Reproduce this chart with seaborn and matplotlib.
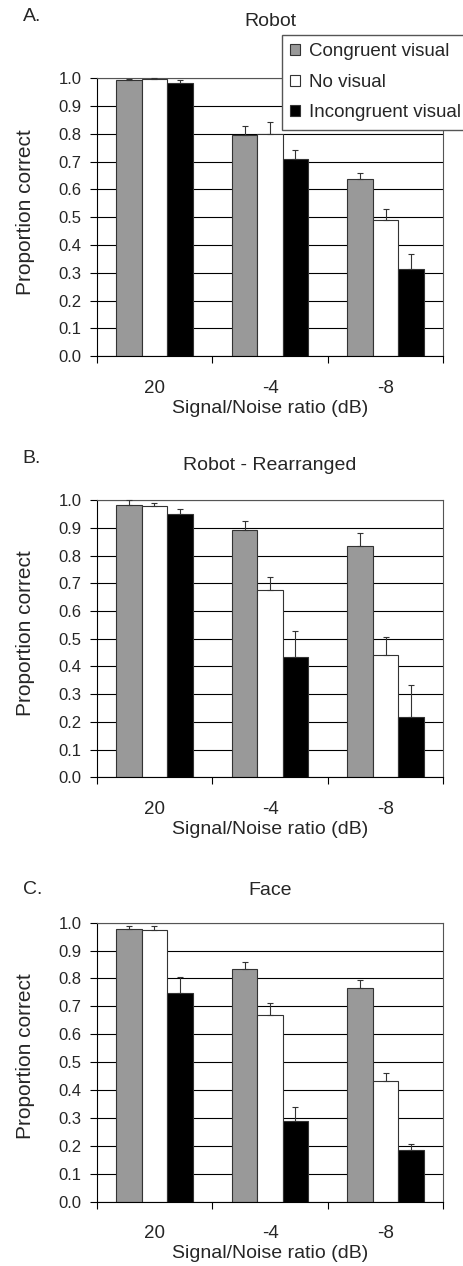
import numpy as np
import pandas as pd
import seaborn as sns
import matplotlib.pyplot as plt
from matplotlib.ticker import FixedLocator, FormatStrFormatter

snr_labels = ["20", "-4", "-8"]
conditions = ["Congruent visual", "No visual", "Incongruent visual"]
panel_letters = ["A.", "B.", "C."]
panel_titles = ["Robot", "Robot - Rearranged", "Face"]

# mean proportion correct, rows = condition, cols = SNR
robot_means = [[0.992, 0.796, 0.637],
               [0.998, 0.800, 0.489],
               [0.984, 0.710, 0.314]]
robot_errs = [[0.007, 0.033, 0.022],
              [0.002, 0.041, 0.041],
              [0.009, 0.033, 0.053]]

rearr_means = [[0.984, 0.891, 0.835],
               [0.980, 0.674, 0.440],
               [0.951, 0.433, 0.219]]
rearr_errs = [[0.016, 0.034, 0.048],
              [0.010, 0.048, 0.067],
              [0.018, 0.096, 0.115]]

face_means = [[0.978, 0.835, 0.765],
              [0.974, 0.670, 0.434],
              [0.749, 0.289, 0.184]]
face_errs = [[0.011, 0.025, 0.028],
             [0.015, 0.043, 0.026],
             [0.056, 0.049, 0.021]]

colors = {"Congruent visual": "#999999", "No visual": "#ffffff",
          "Incongruent visual": "#000000"}

sns.set_style("white")
plt.rcParams["font.family"] = ["Liberation Sans", "DejaVu Sans"]

fig = plt.figure(figsize=(4.64, 12.66), dpi=100)
axes_boxes = [[0.2084, 0.7186, 0.747, 0.2196],
              [0.2084, 0.3860, 0.747, 0.2190],
              [0.2084, 0.0508, 0.747, 0.2204]]
# title / letter heights above the axes, in axes fractions
title_y = [1.205, 1.123, 1.116]
letter_y = [1.222, 1.150, 1.118]

panels = [(robot_means, robot_errs), (rearr_means, rearr_errs), (face_means, face_errs)]

for p, (means, errs) in enumerate(panels):
    ax = fig.add_axes(axes_boxes[p])
    rows = []
    for ci, cond in enumerate(conditions):
        for si, snr in enumerate(snr_labels):
            rows.append({"snr": snr, "condition": cond, "value": means[ci][si]})
    df = pd.DataFrame(rows)

    ax.set_axisbelow(True)
    ax.yaxis.grid(True, color="black", linewidth=0.8)
    sns.barplot(data=df, x="snr", y="value", hue="condition", order=snr_labels,
                hue_order=conditions, palette=colors, width=0.66, gap=0,
                edgecolor="#333333", linewidth=0.8, errorbar=None,
                saturation=1, legend=(p == 0), ax=ax)

    bar_containers = list(ax.containers)
    for ci, container in enumerate(bar_containers):
        for si, bar in enumerate(container.patches):
            xc = bar.get_x() + bar.get_width() / 2
            ax.errorbar(xc, bar.get_height(), yerr=[[0], [errs[ci][si]]],
                        fmt="none", ecolor="#333333", elinewidth=0.8,
                        capsize=2.5, capthick=0.8, clip_on=False, zorder=3)

    ax.set_xlim(-0.5, 2.5)
    ax.set_ylim(0, 1.0)
    ax.set_yticks(np.arange(0, 1.01, 0.1))
    ax.yaxis.set_major_formatter(FormatStrFormatter("%.1f"))
    ax.xaxis.set_minor_locator(FixedLocator([-0.5, 0.5, 1.5, 2.5]))
    ax.tick_params(axis="x", which="major", length=0, labelsize=13.5, pad=17)
    ax.tick_params(axis="x", which="minor", length=5, width=0.8,
                   direction="out", bottom=True, color="black")
    ax.tick_params(axis="y", length=5, width=0.8, direction="out", left=True,
                   color="black", labelsize=12, pad=6)

    for side in ["left", "bottom"]:
        ax.spines[side].set_color("black")
        ax.spines[side].set_linewidth(0.8)
    for side in ["top", "right"]:
        ax.spines[side].set_color("#555555")
        ax.spines[side].set_linewidth(0.8)

    ax.set_xlabel("Signal/Noise ratio (dB)", fontsize=14, labelpad=2)
    ax.set_ylabel("Proportion correct", fontsize=15)
    ax.yaxis.set_label_coords(-0.177, 0.52)
    ax.text(0.5, title_y[p], panel_titles[p], transform=ax.transAxes,
            fontsize=14, ha="center", va="center")
    ax.text(-0.213, letter_y[p], panel_letters[p], transform=ax.transAxes,
            fontsize=14, ha="left", va="center")

    if p == 0:
        handles, labels = ax.get_legend_handles_labels()
        ax.legend_.remove()
        fig.legend(handles, labels, loc="upper left",
                   bbox_to_anchor=(282 / 464, 1 - 35 / 1266),
                   fontsize=13.5, frameon=True, fancybox=False,
                   edgecolor="#555555", framealpha=1, borderpad=0.45,
                   handlelength=0.5, handleheight=0.5, handletextpad=0.5,
                   labelspacing=0.72, borderaxespad=0)

fig.savefig("out.png", dpi=100)
